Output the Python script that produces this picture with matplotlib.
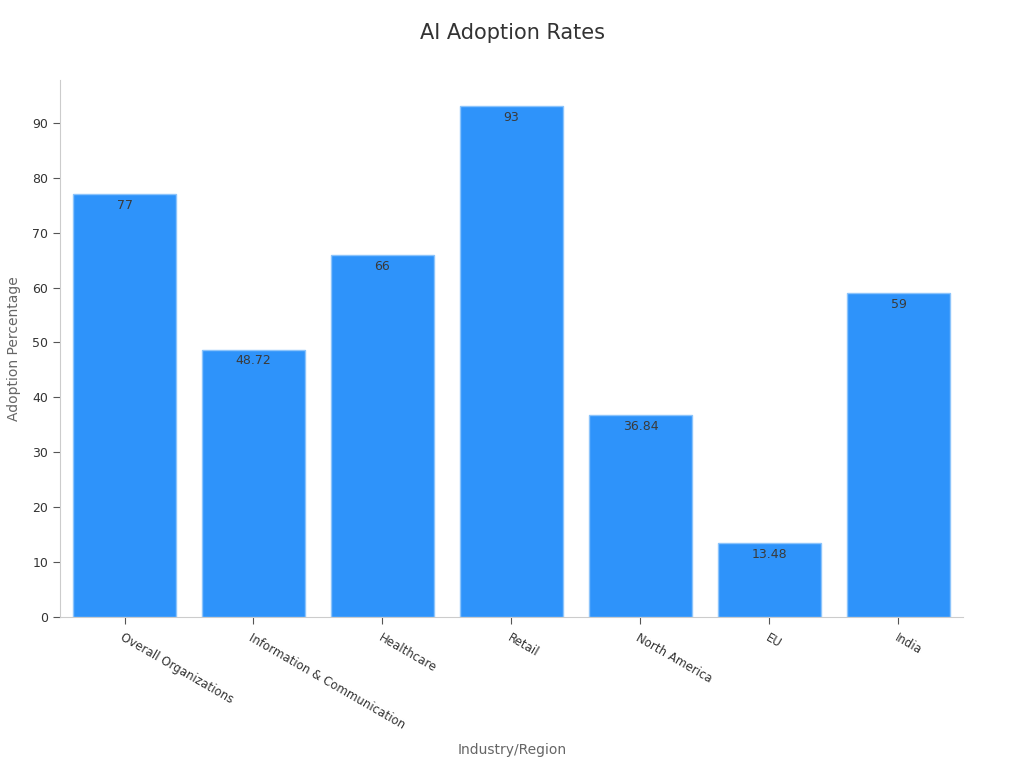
import matplotlib
matplotlib.use("Agg")
import matplotlib.pyplot as plt

# Données
categories = ["Overall Organizations", "Information & Communication", "Healthcare",
              "Retail", "North America", "EU", "India"]
adoption = [77, 48.72, 66, 93, 36.84, 13.48, 59]
value_labels = ["77", "48.72", "66", "93", "36.84", "13.48", "59"]

fig = plt.figure(figsize=(10.24, 7.68), dpi=100)
ax = fig.add_axes([0.0586, 0.1966, 0.8818, 0.6992])

x = range(len(categories))
bars = ax.bar(x, adoption, width=0.8, color="#2e93fa", edgecolor="#8cc4fb", linewidth=1)

for xi, v, lab in zip(x, adoption, value_labels):
    ax.text(xi, v - 0.9, lab, ha="center", va="top", fontsize=9, color="#3a3a3a")

ax.set_xlim(-0.5, len(categories) - 0.5)
ax.set_ylim(0, 97.8)
ax.set_yticks(range(0, 100, 10))
ax.set_xticks(list(x))
ax.set_xticklabels(categories, rotation=-30, ha="left", va="top", rotation_mode="anchor",
                   fontsize=8.5, color="#333333")
ax.tick_params(axis="y", labelsize=9, labelcolor="#333333", color="#555555", length=5)
ax.tick_params(axis="x", color="#555555", length=5, pad=5)

for s in ["top", "right"]:
    ax.spines[s].set_visible(False)
for s in ["left", "bottom"]:
    ax.spines[s].set_color("#cccccc")

ax.set_ylabel("Adoption Percentage", fontsize=10, color="#666666", labelpad=8)
fig.text(0.5, 0.023, "Industry/Region", ha="center", va="center", fontsize=10, color="#666666")
fig.text(0.5, 0.957, "AI Adoption Rates", ha="center", va="center", fontsize=15, color="#333333")

fig.savefig("out.png", dpi=100)
